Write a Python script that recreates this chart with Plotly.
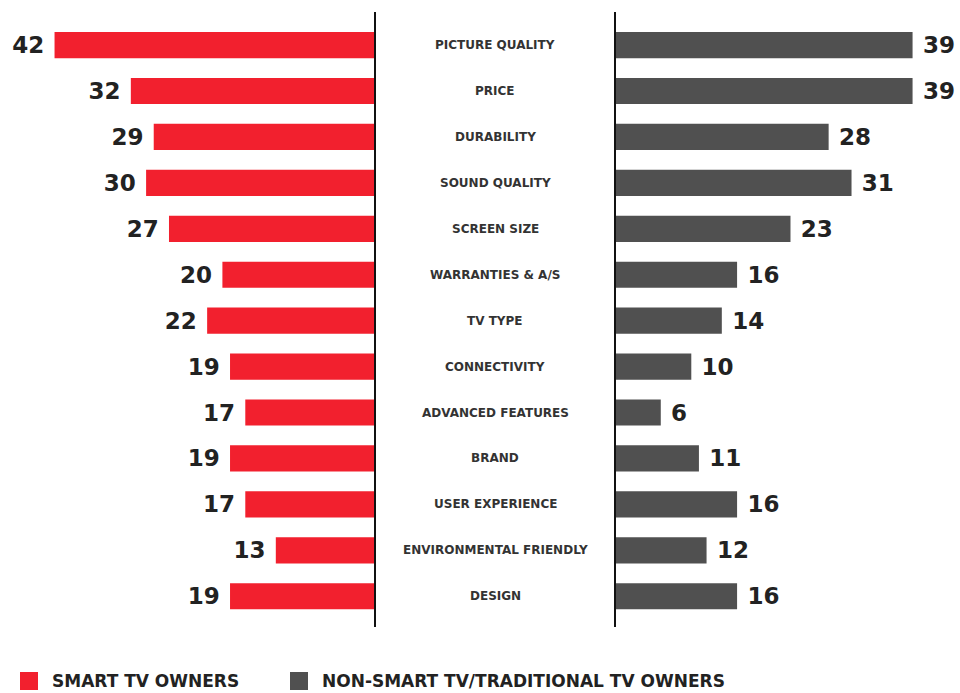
import plotly.graph_objects as go

# Purchase drivers, % of respondents
categories = [
    "PICTURE QUALITY", "PRICE", "DURABILITY", "SOUND QUALITY", "SCREEN SIZE",
    "WARRANTIES & A/S", "TV TYPE", "CONNECTIVITY", "ADVANCED FEATURES",
    "BRAND", "USER EXPERIENCE", "ENVIRONMENTAL FRIENDLY", "DESIGN",
]
smart_tv = [42, 32, 29, 30, 27, 20, 22, 19, 17, 19, 17, 13, 19]
non_smart_tv = [39, 39, 28, 31, 23, 16, 14, 10, 6, 11, 16, 12, 16]
series_names = ["SMART TV OWNERS", "NON-SMART TV/TRADITIONAL TV OWNERS"]

RED = "#F2202E"
GREY = "#505050"
W, H = 960, 693

left_edge = 375 / W
right_edge = 615 / W
y_bottom = (H - 627) / H
y_top = (H - 12) / H

num_font = dict(family="DejaVu Sans", size=23, color="#222222")

fig = go.Figure()
fig.add_trace(go.Bar(
    y=categories, x=smart_tv, orientation="h", name=series_names[0],
    marker=dict(color=RED, line=dict(width=0)), width=0.57,
    text=[f"<b>{v}</b>" for v in smart_tv], texttemplate="%{text} ",
    textposition="outside", textfont=num_font, cliponaxis=False,
    xaxis="x", yaxis="y", showlegend=False,
))
fig.add_trace(go.Bar(
    y=categories, x=non_smart_tv, orientation="h", name=series_names[1],
    marker=dict(color=GREY, line=dict(width=0)), width=0.57,
    text=[f"<b>{v}</b>" for v in non_smart_tv], texttemplate=" %{text}",
    textposition="outside", textfont=num_font, cliponaxis=False,
    xaxis="x2", yaxis="y", showlegend=False,
))

# Category labels in the centre gap
for c in categories:
    fig.add_annotation(
        x=(left_edge + right_edge) / 2, xref="paper", y=c, yref="y",
        text=f"<b>{c}</b>", showarrow=False,
        font=dict(family="DejaVu Sans", size=12, color="#333333"),
    )

# Divider lines on each side of the labels
for xp in (left_edge, right_edge):
    fig.add_shape(type="line", xref="paper", yref="paper",
                  x0=xp, x1=xp, y0=y_bottom, y1=y_top,
                  line=dict(color="#111111", width=2))

# Legend drawn below the chart
legend_y0 = (H - 690) / H
legend_y1 = (H - 672) / H
legend_items = [(20, RED, series_names[0]), (290, GREY, series_names[1])]
for x0, col, name in legend_items:
    fig.add_shape(type="rect", xref="paper", yref="paper",
                  x0=x0 / W, x1=(x0 + 18) / W, y0=legend_y0, y1=legend_y1,
                  fillcolor=col, line=dict(width=0))
    fig.add_annotation(
        x=(x0 + 30) / W, xref="paper", y=(legend_y0 + legend_y1) / 2, yref="paper",
        xanchor="left", yanchor="middle", text=f"<b>{name}</b>", showarrow=False,
        font=dict(family="DejaVu Sans", size=17, color="#222222"),
    )

px_per_unit = 7.63
fig.update_layout(
    width=W, height=H,
    margin=dict(l=0, r=0, t=0, b=0),
    paper_bgcolor="white", plot_bgcolor="white",
    xaxis=dict(domain=[0, left_edge], range=[375 / px_per_unit, 0],
               visible=False, fixedrange=True),
    xaxis2=dict(domain=[right_edge, 1], range=[0, 345 / px_per_unit],
                visible=False, fixedrange=True),
    yaxis=dict(domain=[y_bottom, y_top], categoryorder="array",
               categoryarray=categories, range=[12.67, -0.72],
               visible=False, fixedrange=True),
    bargap=0.4,
)

fig.write_html("out.html")
